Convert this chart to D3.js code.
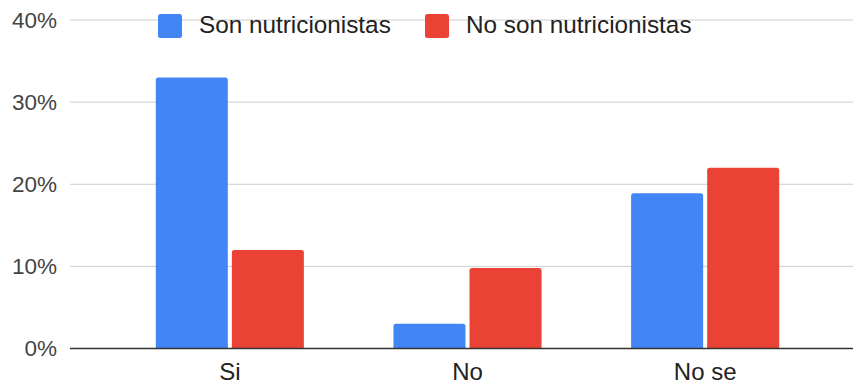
<!DOCTYPE html>
<html>
<head>
<meta charset="utf-8">
<script src="https://cdn.jsdelivr.net/npm/d3@7"></script>
<style>
  html, body { margin: 0; padding: 0; background: #fff; }
  svg { display: block; font-family: "Liberation Sans", Arial, sans-serif; }
</style>
</head>
<body>
<svg id="chart" width="853" height="385"></svg>
<script>
// Survey answers by group (percent)
const categories = ["Si", "No", "No se"];
const seriesNames = ["Son nutricionistas", "No son nutricionistas"];
const nutricionistas = [33, 3, 18.9];
const noNutricionistas = [12, 9.8, 22];
const yTicks = [0, 10, 20, 30, 40];
const colors = ["#4285F4", "#EA4335"];

const seriesValues = [nutricionistas, noNutricionistas];

const svg = d3.select("#chart");
const plot = { left: 70, right: 853, top: 20, bottom: 348.5 };

const y = d3.scaleLinear().domain([0, 40]).range([plot.bottom, plot.top]);
const x0 = d3.scaleBand().domain(categories).range([111, 824]).padding(0);
const x1 = d3.scaleBand().domain(seriesNames).range([0, x0.bandwidth()])
  .paddingInner(0.053).paddingOuter(0.589);

// gridlines
svg.append("g")
  .selectAll("line")
  .data(yTicks.filter(d => d !== 0))
  .join("line")
  .attr("x1", plot.left).attr("x2", plot.right)
  .attr("y1", d => y(d)).attr("y2", d => y(d))
  .attr("stroke", "#cccccc").attr("stroke-width", 1);

// y axis labels
const yAxis = d3.axisLeft(y).tickValues(yTicks).tickFormat(d => d + "%").tickSize(0).tickPadding(13);
svg.append("g")
  .attr("transform", `translate(${plot.left},0)`)
  .call(yAxis)
  .call(g => g.select(".domain").remove())
  .selectAll("text")
  .attr("font-size", 22.5)
  .attr("fill", "#444")
  .attr("font-family", "Liberation Sans, Arial, sans-serif");

// bars with slightly rounded top corners
function barPath(x, yTop, w, h, r) {
  r = Math.min(r, h, w / 2);
  return `M${x},${yTop + h}V${yTop + r}Q${x},${yTop} ${x + r},${yTop}` +
         `H${x + w - r}Q${x + w},${yTop} ${x + w},${yTop + r}V${yTop + h}Z`;
}

const rows = [];
categories.forEach((c, i) => {
  seriesNames.forEach((s, j) => rows.push({ cat: c, series: s, value: seriesValues[j][i], color: colors[j] }));
});

svg.append("g")
  .selectAll("path")
  .data(rows)
  .join("path")
  .attr("d", d => {
    const bx = x0(d.cat) + x1(d.series);
    const yt = y(d.value);
    return barPath(bx, yt, x1.bandwidth(), y(0) - yt, 2.5);
  })
  .attr("fill", d => d.color);

// baseline
svg.append("line")
  .attr("x1", plot.left).attr("x2", plot.right)
  .attr("y1", y(0)).attr("y2", y(0))
  .attr("stroke", "#333").attr("stroke-width", 1.6);

// x axis labels
const xAxis = d3.axisBottom(x0).tickSize(0).tickPadding(0);
svg.append("g")
  .attr("transform", `translate(0,${plot.bottom})`)
  .call(xAxis)
  .call(g => g.select(".domain").remove())
  .selectAll("text")
  .attr("dy", null)
  .attr("y", 31.5)
  .attr("font-size", 24)
  .attr("fill", "#222")
  .attr("font-family", "Liberation Sans, Arial, sans-serif");

// legend
const legendX = [158, 425];
const legend = svg.append("g")
  .selectAll("g")
  .data(seriesNames)
  .join("g")
  .attr("transform", (d, i) => `translate(${legendX[i]},14)`);
legend.append("rect")
  .attr("width", 24).attr("height", 24).attr("rx", 2.5)
  .attr("fill", (d, i) => colors[i]);
legend.append("text")
  .attr("x", 41).attr("y", 19)
  .attr("font-size", 24.3).attr("fill", "#222")
  .text(d => d);
</script>
</body>
</html>
